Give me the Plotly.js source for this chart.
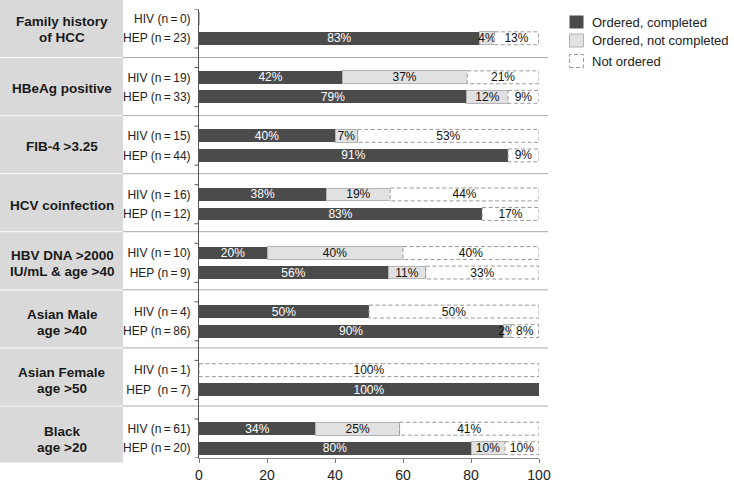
<!DOCTYPE html>
<html>
<head>
<meta charset="utf-8">
<script src="https://cdn.plot.ly/plotly-3.0.1.min.js"></script>
<style>html,body{margin:0;padding:0;background:#fff;}#chart{width:734px;height:484px;}</style>
</head>
<body>
<div id="chart"></div>
<script>
// ---- data ----
const groupLabels = [
  ["Family history", "of HCC"],
  ["HBeAg positive"],
  ["FIB-4 >3.25"],
  ["HCV coinfection"],
  ["HBV DNA >2000", "IU/mL & age >40"],
  ["Asian Male", "age >40"],
  ["Asian Female", "age >50"],
  ["Black", "age >20"]
];
const hivN = [0, 19, 15, 16, 10, 4, 1, 61];
const hepN = [23, 33, 44, 12, 9, 86, 7, 20];
const hepLabelGap = ["", "", "", "", "", "", "\u00a0", ""];

// percentages: ordered & completed / ordered, not completed / not ordered
const hivCompleted    = [0, 42.1, 40.0, 37.5, 20.0, 50.0, 0, 34.4];
const hivNotCompleted = [0, 36.8, 6.7, 18.75, 40.0, 0, 0, 24.6];
const hivNotOrdered   = [0, 21.1, 53.3, 43.75, 40.0, 50.0, 100, 41.0];
const hepCompleted    = [82.6, 78.8, 90.9, 83.3, 55.6, 89.5, 100, 80.0];
const hepNotCompleted = [4.3, 12.1, 0, 0, 11.1, 2.3, 0, 10.0];
const hepNotOrdered   = [13.0, 9.1, 9.1, 16.7, 33.3, 8.1, 0, 10.0];

const xTicks = [0, 20, 40, 60, 80, 100];
const statusNames = ["Ordered, completed", "Ordered, not completed", "Not ordered"];

// ---- build ----
const FONT = "Liberation Sans, Arial, Helvetica, sans-serif";
const DARK = "#4b4b4b", LIGHT = "#e1e1e1", LIGHT_LINE = "#b3b3b3", DASH = "#9a9a9a";
const DASHSTYLE = "4px,2.5px";

const nG = groupLabels.length;
const yPos = [], yText = [], comp = [], notc = [], noto = [];
for (let g = 0; g < nG; g++) {
  yPos.push(3 * g + 1); yText.push("HIV (n\u2009=\u2009" + hivN[g] + ")");
  comp.push(hivCompleted[g]); notc.push(hivNotCompleted[g]); noto.push(hivNotOrdered[g]);
  yPos.push(3 * g + 2); yText.push("HEP " + hepLabelGap[g] + "(n\u2009=\u2009" + hepN[g] + ")");
  comp.push(hepCompleted[g]); notc.push(hepNotCompleted[g]); noto.push(hepNotOrdered[g]);
}
const minorTicks = [];
for (let g = 0; g < nG; g++) { minorTicks.push(3 * g + 0.5, 3 * g + 2.5); }

const lab = arr => arr.map(v => v > 0 ? Math.round(v) + "%" : "");
const BW = 0.66;

function barTrace(vals, name, fill, lineColor, lineW, txtColor) {
  return {
    type: "bar", orientation: "h", name: name,
    x: vals, y: yPos, width: BW,
    marker: {color: fill, line: {color: lineColor, width: lineW}},
    text: lab(vals), textposition: "inside", insidetextanchor: "middle",
    textangle: 0, constraintext: "none",
    textfont: {family: FONT, size: 12, color: txtColor},
    insidetextfont: {family: FONT, size: 12, color: txtColor},
    hoverinfo: "skip", showlegend: false, cliponaxis: false
  };
}
const traces = [
  barTrace(comp, statusNames[0], DARK, DARK, 0, "#ffffff"),
  barTrace(notc, statusNames[1], LIGHT, LIGHT_LINE, 1, "#111111"),
  barTrace(noto, statusNames[2], "#ffffff", "#ffffff", 0, "#111111")
];

// pixel helpers for layout decorations (layout-only, not data)
const L = 199, R = 195, T = 9, B = 26, W = 734, H = 484;
const pw = W - L - R, ph = H - T - B;
const px = p => (p - L) / pw;
const py = p => (H - B - p) / ph;

const shapes = [];
// grey label panel
shapes.push({type: "rect", xref: "paper", yref: "paper", layer: "below",
  x0: px(0), x1: px(123), y0: py(462.5), y1: py(0), fillcolor: "#d9d9d9", line: {width: 0}});
// separators
const sepPix = [57.5, 115.6, 173.7, 231.7, 289.8, 347.9, 406.0];
sepPix.forEach(p => {
  shapes.push({type: "line", xref: "paper", yref: "paper", layer: "below",
    x0: px(0), x1: px(123), y0: py(p), y1: py(p), line: {color: "#f4f4f4", width: 1.2}});
  shapes.push({type: "line", xref: "paper", yref: "paper", layer: "below",
    x0: px(123), x1: px(548), y0: py(p), y1: py(p), line: {color: "#a9a9a9", width: 1}});
});
// small y-axis tick marks between groups
minorTicks.forEach(v => {
  shapes.push({type: "line", xref: "paper", yref: "y", layer: "above",
    x0: px(194.5), x1: px(199), y0: v, y1: v, line: {color: "#555", width: 1}});
});
// dashed outlines of "not ordered" segments (data coordinates)
for (let i = 0; i < yPos.length; i++) {
  if (noto[i] > 0) {
    const x0 = comp[i] + notc[i];
    shapes.push({type: "rect", xref: "x", yref: "y", layer: "above",
      x0: x0, x1: x0 + noto[i], y0: yPos[i] - BW / 2, y1: yPos[i] + BW / 2,
      fillcolor: "rgba(0,0,0,0)", line: {color: DASH, width: 1, dash: DASHSTYLE}});
  }
}
// custom legend
const legY = [22, 40.5, 61];
const legFill = [DARK, LIGHT, "#ffffff"];
const legLine = [{color: DARK, width: 0}, {color: LIGHT_LINE, width: 1}, {color: DASH, width: 1, dash: DASHSTYLE}];
const annotations = [];
for (let k = 0; k < 3; k++) {
  shapes.push({type: "rect", xref: "paper", yref: "paper",
    x0: px(569.5), x1: px(583.5), y0: py(legY[k] + 6.5), y1: py(legY[k] - 6.5),
    fillcolor: legFill[k], line: legLine[k]});
  annotations.push({xref: "paper", yref: "paper", x: px(590), y: py(legY[k]),
    xanchor: "left", yanchor: "middle", showarrow: false, text: statusNames[k],
    font: {family: FONT, size: 13, color: "#222"}});
}
// group labels
for (let g = 0; g < nG; g++) {
  const lines = groupLabels[g];
  const c = 3 * g + 1.55;
  lines.forEach((t, j) => {
    const off = lines.length === 1 ? 0 : (j === 0 ? -0.41 : 0.41);
    annotations.push({xref: "paper", yref: "y", x: px(62), y: c + off,
      xanchor: "center", yanchor: "middle", showarrow: false,
      text: "<b>" + t + "</b>", font: {family: FONT, size: 13.5, color: "#1a1a1a"}});
  });
}

const layout = {
  width: W, height: H,
  margin: {l: L, r: R, t: T, b: B, pad: 0},
  paper_bgcolor: "#ffffff", plot_bgcolor: "rgba(0,0,0,0)",
  barmode: "stack", bargap: 0, showlegend: false,
  font: {family: FONT, color: "#222"},
  xaxis: {range: [0, 100], tickmode: "array", tickvals: xTicks, ticktext: xTicks.map(String),
    ticks: "outside", ticklen: 4, tickcolor: "#777", showline: true, linecolor: "#8a8a8a", linewidth: 1,
    showgrid: false, zeroline: false, tickfont: {family: FONT, size: 14, color: "#222"}, fixedrange: true},
  yaxis: {range: [23.5, 0.5], tickmode: "array", tickvals: yPos, ticktext: yText,
    ticks: "outside", ticklen: 5, tickcolor: "rgba(0,0,0,0)",
    showline: true, linecolor: "#555", linewidth: 1, showgrid: false, zeroline: false,
    tickfont: {family: FONT, size: 12, color: "#222"}, fixedrange: true},
  shapes: shapes, annotations: annotations
};

Plotly.newPlot("chart", traces, layout, {staticPlot: true, displayModeBar: false});
</script>
</body>
</html>
